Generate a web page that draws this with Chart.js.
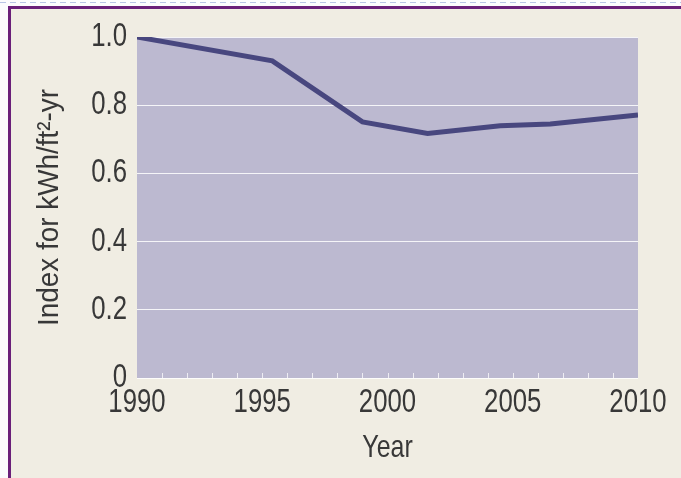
<!DOCTYPE html>
<html>
<head>
<meta charset="utf-8">
<script src="https://cdn.jsdelivr.net/npm/chart.js@4/dist/chart.umd.min.js"></script>
<style>
  html, body { margin: 0; padding: 0; background: #ffffff; }
  #page { position: relative; width: 681px; height: 478px; overflow: hidden; background: #fbfbfd; }
  #page::before { content: ""; position: absolute; left: 0; top: 2px; right: 0; height: 1px;
    background: repeating-linear-gradient(90deg, #b8c4e6 0 6px, transparent 6px 10px); }
  #panel { position: absolute; left: 8px; top: 6px; right: 0; bottom: 0; background: #f0ede3;
    border-left: 3px solid #6a1f79; border-top: 3px solid #6a1f79; }
  canvas { position: absolute; left: 0; top: 0; }
</style>
</head>
<body>
<div id="page">
  <div id="panel"></div>
  <canvas id="chart" width="681" height="478"></canvas>
</div>
<script>
// Energy-use index per square foot, by year
const years = [1990, 1995.4, 1999, 2001.6, 2004.5, 2006.5, 2010];
const energyIndex = [1.0, 0.93, 0.751, 0.717, 0.740, 0.745, 0.771];

// Axis tick labels
const yearTicks = [1990, 1995, 2000, 2005, 2010];
const indexTicks = [0, 0.2, 0.4, 0.6, 0.8, 1.0];

const X_TITLE = 'Year';
const Y_TITLE = 'Index for kWh/ft\u00B2-yr';

const FONT = "'Liberation Sans', Arial, sans-serif";
const TEXT = '#383838';

// Condensed lettering: squeeze each string horizontally around its anchor
const canvas = document.getElementById('chart');
const ctx2d = canvas.getContext('2d');
const plainFillText = ctx2d.fillText.bind(ctx2d);
ctx2d.fillText = function (text, x, y, maxWidth) {
  const factor = text === Y_TITLE ? 0.93 : 0.78;
  let w = this.measureText(text).width * factor;
  if (maxWidth !== undefined) w = Math.min(w, maxWidth);
  plainFillText(text, x, y, w);
};

// Shaded plot area plus the small yearly ticks along its lower edge
const plotBackground = {
  id: 'plotBackground',
  beforeDraw(chart) {
    const { ctx, chartArea: a } = chart;
    ctx.save();
    ctx.fillStyle = '#bcb9d0';
    ctx.fillRect(a.left, a.top, a.right - a.left, a.bottom - a.top);
    ctx.restore();
  },
  afterDatasetsDraw(chart) {
    const { ctx, chartArea: a, scales: { x } } = chart;
    ctx.save();
    ctx.strokeStyle = 'rgba(255,255,255,0.75)';
    ctx.lineWidth = 1;
    for (let yr = yearTicks[0] + 1; yr < yearTicks[yearTicks.length - 1]; yr++) {
      const px = Math.round(x.getPixelForValue(yr)) + 0.5;
      ctx.beginPath();
      ctx.moveTo(px, a.bottom);
      ctx.lineTo(px, a.bottom - 5);
      ctx.stroke();
    }
    ctx.restore();
  }
};

new Chart(canvas, {
  type: 'line',
  data: {
    datasets: [{
      data: years.map((yr, i) => ({ x: yr, y: energyIndex[i] })),
      borderColor: '#48477f',
      borderWidth: 5,
      pointRadius: 0,
      tension: 0,
      fill: false
    }]
  },
  options: {
    responsive: false,
    devicePixelRatio: 1,
    animation: false,
    layout: { padding: { left: 0, top: 37, right: 43, bottom: 0 } },
    plugins: { legend: { display: false }, tooltip: { enabled: false } },
    scales: {
      x: {
        type: 'linear',
        min: 1990,
        max: 2010,
        afterBuildTicks: s => { s.ticks = yearTicks.map(v => ({ value: v })); },
        afterFit: s => { s.height = 100; },
        grid: { display: false, drawTicks: false },
        border: { display: false },
        ticks: {
          color: TEXT,
          padding: 5,
          maxRotation: 0,
          autoSkip: false,
          font: { family: FONT, size: 33 },
          callback: v => String(v)
        },
        title: {
          display: true,
          text: X_TITLE,
          color: TEXT,
          font: { family: FONT, size: 32, lineHeight: 1.2 },
          padding: { top: 0, bottom: 11 }
        }
      },
      y: {
        min: 0,
        max: 1,
        afterBuildTicks: s => { s.ticks = indexTicks.map(v => ({ value: v })); },
        afterFit: s => { s.width = 137; },
        grid: { color: 'rgba(255,255,255,0.85)', lineWidth: 1, drawTicks: false },
        border: { display: false },
        ticks: {
          color: TEXT,
          padding: 10,
          font: { family: FONT, size: 33 },
          callback: v => (v === 0 ? '0' : v.toFixed(1))
        },
        title: {
          display: true,
          text: Y_TITLE,
          color: TEXT,
          font: { family: FONT, size: 30, lineHeight: 1.2 },
          padding: { top: 32, bottom: 0 }
        }
      }
    }
  },
  plugins: [plotBackground]
});
</script>
</body>
</html>
